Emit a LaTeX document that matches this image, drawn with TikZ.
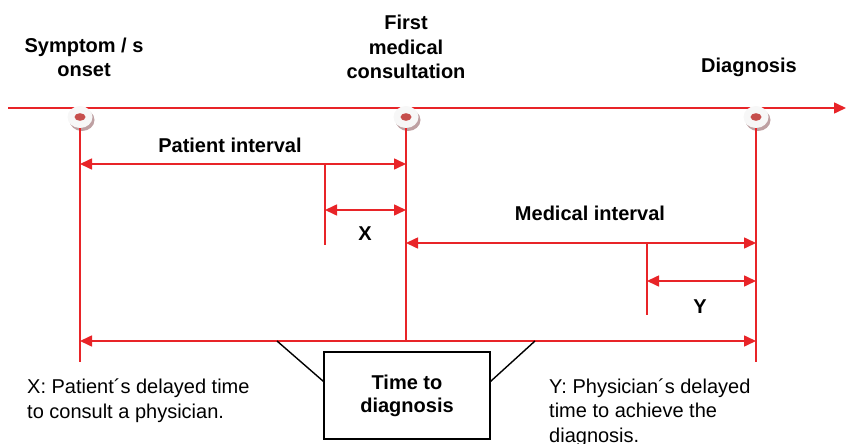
\documentclass[tikz,border=0pt]{standalone}
\usepackage{fontspec}
\setmainfont{Liberation Sans}
\usetikzlibrary{arrows.meta,positioning,calc,shapes.geometric,shadows}
\definecolor{linered}{RGB}{232,36,40}
\definecolor{dotred}{RGB}{198,78,76}
\definecolor{shadowgray}{RGB}{190,160,162}

\begin{document}
\begin{tikzpicture}[
    x=1pt, y=-1pt,
    >={Triangle[length=12pt, width=11pt]},
    redline/.style={draw=linered, line width=1.6pt},
    spanarrow/.style={redline, <->},
    boldlabel/.style={font=\bfseries\fontsize{20}{24}\selectfont, align=center, inner sep=0pt},
    notetext/.style={font=\fontsize{20}{24.5}\selectfont, align=left, inner sep=0pt, anchor=base west},
    markernode/.style={
        ellipse, minimum width=25pt, minimum height=22pt, fill=gray!6,
        drop shadow={shadow xshift=2pt, shadow yshift=-3pt, fill=shadowgray, opacity=1},
        path picture={\fill[dotred] (path picture bounding box.center) ellipse (5.5pt and 3.8pt);}
      },
  ]
  \useasboundingbox (0,0) rectangle (847,444);

  % time axis
  \coordinate (axstart) at (8,108);
  \coordinate (axend) at (846,108);
  \draw[redline, ->] (axstart) -- (axend);

  % events
  \node[markernode] (onset) at (80,117) {};
  \node[markernode] (consult) at (406,117) {};
  \node[markernode] (diag) at (756,117) {};

  \node[boldlabel, anchor=base] (onsetlbl) at (84,77) {Symptom / s\\onset};
  \node[boldlabel, anchor=base] (consultlbl) at (406,78) {First\\medical\\consultation};
  \node[boldlabel, anchor=base] (diaglbl) at (749,73) {Diagnosis};

  % vertical guides
  \coordinate (onsetend) at (80,362);
  \coordinate (consultend) at (406,341);
  \coordinate (diagend) at (756,362);
  \draw[redline, line width=1.3pt] (onset.south) -- (onsetend);
  \draw[redline, line width=1.3pt] (consult.south) -- (consultend);
  \draw[redline, line width=1.3pt] (diag.south) -- (diagend);

  % intervals
  \coordinate (xtop) at (325,164);
  \coordinate (xbot) at (325,245);
  \coordinate (ytop) at (647,243);
  \coordinate (ybot) at (647,315);
  \draw[redline, line width=1.3pt] (xtop) -- (xbot);
  \draw[redline, line width=1.3pt] (ytop) -- (ybot);

  \draw[spanarrow] (onset |- xtop) -- (consult |- xtop);
  \draw[spanarrow] (xtop |- 0,210) -- (consult |- 0,210);
  \draw[spanarrow] (consult |- ytop) -- (diag |- ytop);
  \draw[spanarrow] (ytop |- 0,281) -- (diag |- 0,281);
  \draw[spanarrow] (onset |- consultend) -- (diag |- consultend);

  \node[boldlabel, anchor=base] (patientlbl) at (230,152) {Patient interval};
  \node[boldlabel, anchor=base] (xlbl) at (365,240) {X};
  \node[boldlabel, anchor=base] (medicallbl) at (590,220) {Medical interval};
  \node[boldlabel, anchor=base] (ylbl) at (700,313) {Y};

  % total time
  \node[boldlabel, draw=black, line width=1.4pt, minimum width=166pt, minimum height=87pt]
    (total) at (407,395.5) {Time to\\[-1pt]diagnosis};
  \coordinate (braceleft) at (277,341);
  \coordinate (braceright) at (535,341);
  \draw[black, line width=1.4pt] (braceleft) -- ($(total.north west)+(0,30)$);
  \draw[black, line width=1.4pt] (braceright) -- ($(total.north east)+(0,30)$);

  % notes
  \node[notetext] (xnote) at (27,418) {X: Patient´s delayed time\\to consult a physician.};
  \node[notetext] (ynote) at (549,442) {Y: Physician´s delayed\\time to achieve the\\diagnosis.};
\end{tikzpicture}
\end{document}
